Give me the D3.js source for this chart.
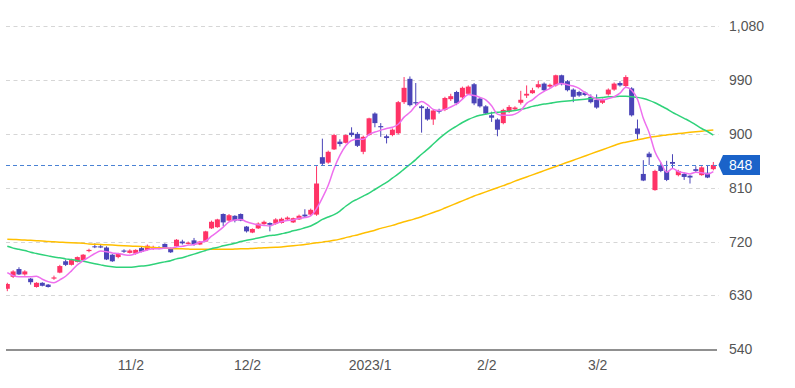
<!DOCTYPE html>
<html>
<head>
<meta charset="utf-8">
<script src="https://cdn.jsdelivr.net/npm/d3@7"></script>
<style>
  html, body { margin: 0; padding: 0; background: #fff; }
  svg { display: block; font-family: Arial, "Liberation Sans", sans-serif; }
</style>
</head>
<body>
<div id="chart"></div>
<script>
// trading days shown on the chart (Oct 2022 - Mar 2023)
const dates = [
  "2022-10-03","2022-10-04","2022-10-05","2022-10-06","2022-10-07",
  "2022-10-11","2022-10-12","2022-10-13","2022-10-14",
  "2022-10-17","2022-10-18","2022-10-19","2022-10-20","2022-10-21",
  "2022-10-24","2022-10-25","2022-10-26","2022-10-27","2022-10-28","2022-10-31",
  "2022-11-01","2022-11-02","2022-11-04",
  "2022-11-07","2022-11-08","2022-11-09","2022-11-10","2022-11-11",
  "2022-11-14","2022-11-15","2022-11-16","2022-11-17","2022-11-18",
  "2022-11-21","2022-11-22","2022-11-24","2022-11-25",
  "2022-11-28","2022-11-29","2022-11-30",
  "2022-12-01","2022-12-02",
  "2022-12-05","2022-12-06","2022-12-07","2022-12-08","2022-12-09",
  "2022-12-12","2022-12-13","2022-12-14","2022-12-15","2022-12-16",
  "2022-12-19","2022-12-20","2022-12-21","2022-12-22","2022-12-23",
  "2022-12-26","2022-12-27","2022-12-28","2022-12-29","2022-12-30",
  "2023-01-04","2023-01-05","2023-01-06",
  "2023-01-10","2023-01-11","2023-01-12","2023-01-13",
  "2023-01-16","2023-01-17","2023-01-18","2023-01-19","2023-01-20",
  "2023-01-23","2023-01-24","2023-01-25","2023-01-26","2023-01-27",
  "2023-01-30","2023-01-31",
  "2023-02-01","2023-02-02","2023-02-03",
  "2023-02-06","2023-02-07","2023-02-08","2023-02-09","2023-02-10",
  "2023-02-13","2023-02-14","2023-02-15","2023-02-16","2023-02-17",
  "2023-02-20","2023-02-21","2023-02-22","2023-02-24",
  "2023-02-27","2023-02-28",
  "2023-03-01","2023-03-02","2023-03-03",
  "2023-03-06","2023-03-07","2023-03-08","2023-03-09","2023-03-10",
  "2023-03-13","2023-03-14","2023-03-15","2023-03-16","2023-03-17",
  "2023-03-20","2023-03-22","2023-03-23","2023-03-24",
  "2023-03-27","2023-03-28","2023-03-29","2023-03-30","2023-03-31"
];

const opens = [
  641,661,674,665,658,644,651,648,658,668, 687,681,686,689,704,712,712,710,698,694,
  705,701,700,709,706,708,710,716,709,712, 720,716,722,715,720,742,744,766,755,763,
  766,745,735,742,749,751,750,751,757,752, 757,765,765,765,861,852,874,887,885,902,
  900,870,898,934,913,896,898,901,953,992, 953,946,942,924,940,940,958,970,961,967,
  983,959,946,931,924,918,937,941,952,964, 968,978,984,979,981,998,988,974,970,969,
  962,957,952,966,974,985,980,976,909,833, 867,806,848,838,853,831,833,830,841,831,
  835,841
];
const highs = [
  651,672,677,672,659,652,652,649,663,681, 690,691,695,699,708,717,716,712,699,701,
  707,707,707,711,715,713,712,717,710,724, 723,720,726,721,738,755,758,767,766,764,
  767,746,742,752,755,752,759,760,762,760, 765,774,775,846,892,872,900,891,899,911,
  903,897,927,936,918,899,909,955,995,996, 985,948,945,941,942,962,967,972,979,981,
  985,961,948,937,926,942,948,946,972,981, 977,989,986,984,999,999,990,976,972,971,
  966,966,959,976,986,988,998,978,924,856, 870,840,852,855,866,840,835,831,846,846,
  848,853
];
const lows = [
  637,659,664,663,648,643,645,643,656,667, 679,680,685,688,702,709,709,689,686,692,
  701,700,698,702,705,706,707,708,701,711, 715,715,713,714,719,741,743,746,754,752,
  754,735,734,741,748,737,748,750,755,751, 756,760,763,763,848,850,873,879,884,895,
  878,866,897,911,895,884,896,899,950,946, 948,902,922,915,934,938,955,948,958,965,
  948,944,932,920,896,916,935,940,949,960, 967,976,971,977,979,981,971,953,962,963,
  951,942,950,964,972,979,978,929,890,821, 848,805,836,821,842,829,823,817,836,830,
  826,839
];
const closes = [
  649,670,665,670,652,651,646,644,660,679, 681,689,694,698,706,711,710,690,687,700,
  703,705,706,703,713,711,709,709,702,723, 717,718,715,720,737,753,757,752,764,755,
  755,737,741,750,753,748,757,758,760,759, 763,762,773,817,850,870,898,883,898,898,
  880,895,926,918,911,893,907,953,977,948, 951,943,924,939,937,960,963,951,977,979,
  951,946,934,927,907,940,945,944,957,967, 973,983,973,982,998,983,973,962,964,965,
  953,944,957,974,984,981,995,931,900,822, 861,838,838,823,850,838,828,827,838,844,
  827,848
];

// moving averages (short / medium / long)
const maShort = [
  668,663,661,661,661,662,657,653,651,656, 662,671,681,688,694,700,704,703,701,700,
  698,697,700,703,706,708,708,709,709,711, 712,714,715,719,721,729,736,744,753,756,
  757,753,750,748,747,746,750,753,755,756, 759,760,763,775,793,814,842,864,880,889,
  891,891,899,903,906,909,911,916,928,936, 947,954,949,941,939,941,945,950,958,966,
  964,961,957,947,933,931,931,933,939,951, 957,965,971,976,982,984,982,980,976,969,
  963,958,957,959,962,968,978,973,958,926, 902,870,852,836,842,837,835,833,836,835,
  833,837
];
const maMid = [
  712,709,707,705,702,700,698,696,694,693, 691,690,688,687,685,683,681,679,678,677,
  677,677,678,679,680,682,684,686,688,691, 693,696,699,702,705,708,710,713,715,717,
  720,722,724,726,728,730,731,733,735,738, 740,743,746,751,757,761,765,771,779,786,
  791,796,801,807,813,819,826,833,841,849, 857,866,874,883,892,900,907,913,919,924,
  928,931,933,935,936,937,938,939,941,943, 946,948,950,951,953,954,955,956,957,958,
  959,960,961,962,962,963,963,962,961,959, 956,952,947,942,936,931,926,921,915,909,
  904,898
];
const maLong = [
  724,723.5,723,722.5,722,721.5,721,720,719.5,719, 718.5,718,717.5,717,716,715.5,715,714.5,714,713.5,
  713,712.5,712,711.5,711,710,709.5,709,708.5,708, 708,707.5,707,707,707,707,707,707,707,707.5,
  708,708,708.5,709,709.5,710,710.5,711,712,713, 714,715,716.5,718,719,720.5,722,724,726.5,729,
  731,734,736.5,739,742,744.5,747,750,753,755.5, 758.5,761.5,765,768.5,772,776,780,784,788,792,
  796,799.5,803,806.5,810,813.5,817,821,824.5,828, 831.5,835,838.5,842,845.5,849,852.5,856,859.5,863,
  866.5,870,873.5,877,880.5,884,886,888,890,892, 894,895.5,897,898,899.5,900.5,901.5,902.5,903.5,904.5,
  905.5,906.5
];

const tickDates = ["2022-11-02", "2022-12-02", "2023-01-04", "2023-02-02", "2023-03-02"];
const tickLabels = ["11/2", "12/2", "2023/1", "2/2", "3/2"];
const priceTicks = [540, 630, 720, 810, 900, 990, 1080];
const lastPrice = 848;

document.addEventListener('DOMContentLoaded', () => {
  drawChart();
});

function drawChart() {
  const width = 795;
  const height = 388;
  const step = 5.835;
  const first = 7.3;
  const plotLeft = 6, plotRight = 719;

  const upColor = "#ff3366";
  const downColor = "#4a44b8";

  const data = dates.map((d, i) => ({
    date: d, open: opens[i], high: highs[i], low: lows[i], close: closes[i]
  }));

  const x = d3.scaleBand()
    .domain(dates)
    .range([first - step / 2, first + (dates.length - 0.5) * step])
    .paddingInner(0.14)
    .paddingOuter(0.07);
  const cx = d => x(d) + x.bandwidth() / 2;

  const y = d3.scaleLinear()
    .domain([540, 1080])
    .range([349.2, 26.2]);

  const svg = d3.select("#chart").append("svg")
    .attr("width", width)
    .attr("height", height);

  svg.append("defs").append("clipPath")
    .attr("id", "plot-clip")
    .append("rect")
    .attr("x", plotLeft)
    .attr("y", 0)
    .attr("width", plotRight - plotLeft)
    .attr("height", y(540));

  // dashed grid
  svg.append("g")
    .selectAll("line")
    .data(priceTicks.filter(v => v > 540))
    .join("line")
    .attr("x1", plotLeft)
    .attr("x2", plotRight)
    .attr("y1", d => Math.round(y(d)) + 0.5)
    .attr("y2", d => Math.round(y(d)) + 0.5)
    .attr("stroke", "#d6d6d6")
    .attr("stroke-dasharray", "4,3.5");

  const plot = svg.append("g").attr("clip-path", "url(#plot-clip)");

  // candles
  const candle = plot.append("g")
    .selectAll("g")
    .data(data)
    .join("g")
    .attr("fill", d => d.close >= d.open ? upColor : downColor)
    .attr("stroke", d => d.close >= d.open ? upColor : downColor);

  candle.append("line")
    .attr("x1", d => cx(d.date))
    .attr("x2", d => cx(d.date))
    .attr("y1", d => y(d.high))
    .attr("y2", d => y(d.low))
    .attr("stroke-width", 1);

  candle.append("rect")
    .attr("x", d => x(d.date))
    .attr("width", x.bandwidth())
    .attr("y", d => y(Math.max(d.open, d.close)))
    .attr("height", d => Math.max(1, Math.abs(y(d.open) - y(d.close))))
    .attr("stroke", "none");

  // moving averages
  const line = values => d3.line()
    .x((d, i) => cx(dates[i]))
    .y(d => y(d))
    .curve(d3.curveMonotoneX)(values);

  plot.append("path")
    .attr("d", line(maLong))
    .attr("fill", "none")
    .attr("stroke", "#ffbf00")
    .attr("stroke-width", 1.5);

  plot.append("path")
    .attr("d", line(maMid))
    .attr("fill", "none")
    .attr("stroke", "#2fd27a")
    .attr("stroke-width", 1.5);

  plot.append("path")
    .attr("d", line(maShort))
    .attr("fill", "none")
    .attr("stroke", "#ee6fee")
    .attr("stroke-width", 1.5);

  // last price line
  svg.append("line")
    .attr("x1", plotLeft)
    .attr("x2", plotRight)
    .attr("y1", Math.round(y(lastPrice)) + 0.5)
    .attr("y2", Math.round(y(lastPrice)) + 0.5)
    .attr("stroke", "#4a82d4")
    .attr("stroke-dasharray", "4,3");

  // bottom axis
  svg.append("line")
    .attr("x1", plotLeft)
    .attr("x2", 717)
    .attr("y1", y(540) + 0.8)
    .attr("y2", y(540) + 0.8)
    .attr("stroke", "#6b6b6b")
    .attr("stroke-width", 1.6);

  svg.append("g")
    .attr("transform", `translate(0,${y(540)})`)
    .call(d3.axisBottom(x)
      .tickValues(tickDates)
      .tickFormat((d, i) => tickLabels[i])
      .tickSize(0)
      .tickPadding(11))
    .call(g => g.select(".domain").remove())
    .call(g => g.selectAll("text")
      .attr("x", 1)
      .attr("fill", "#555")
      .style("font-size", "14px")
      .style("font-family", "Arial, 'Liberation Sans', sans-serif"));

  // price axis on the right
  svg.append("g")
    .attr("transform", "translate(729,0)")
    .call(d3.axisRight(y)
      .tickValues(priceTicks)
      .tickFormat(d3.format(","))
      .tickSize(0)
      .tickPadding(0))
    .call(g => g.select(".domain").remove())
    .call(g => g.selectAll("text")
      .attr("fill", "#555")
      .style("font-size", "14px")
      .style("font-family", "Arial, 'Liberation Sans', sans-serif"));

  // last price tag
  const py = y(lastPrice);
  const tag = svg.append("g");
  tag.append("path")
    .attr("d", `M718.5,${py} L723,${py - 10} H760 V${py + 10} H723 Z`)
    .attr("fill", "#1a63c9");
  tag.append("text")
    .attr("x", 729)
    .attr("y", py)
    .attr("dy", "0.35em")
    .attr("fill", "#fff")
    .style("font-size", "14px")
    .text(lastPrice);
}
</script>
</body>
</html>
